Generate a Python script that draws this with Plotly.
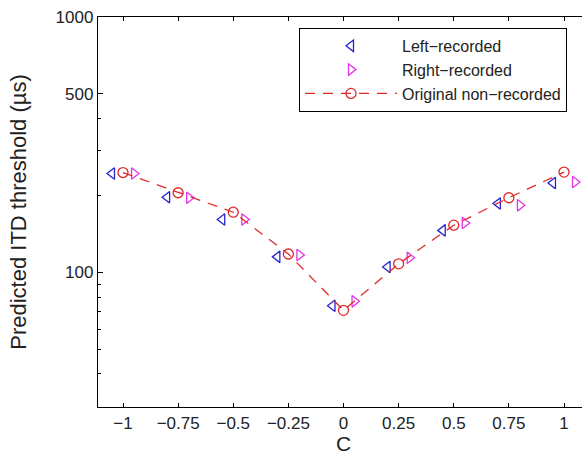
import numpy as np
import plotly.graph_objects as go

# ---- data ----
C_vals = [-1, -0.75, -0.5, -0.25, 0, 0.25, 0.5, 0.75, 1]
left_recorded = [244, 197, 161, 115, 74, 105, 146, 186, 224]
right_recorded = [244, 196, 161, 117, 77, 114, 156, 183, 226]
original_nonrec = [246, 205, 172, 118, 71, 108, 153, 196, 247]
x_tick_vals = [-1, -0.75, -0.5, -0.25, 0, 0.25, 0.5, 0.75, 1]
x_tick_text = ["\u22121", "\u22120.75", "\u22120.5", "\u22120.25", "0", "0.25", "0.5", "0.75", "1"]
y_tick_vals = [100, 500, 1000]
y_tick_text = ["100", "500", "1000"]
y_minor_vals = [40, 50, 60, 70, 80, 90, 200, 300, 400]

offset = 0.05
C = np.array(C_vals)

FONT = "Liberation Sans, Arial, Helvetica, sans-serif"

fig = go.Figure()
fig.add_trace(go.Scatter(
    x=C - offset, y=left_recorded, mode="markers", name="Left\u2212recorded",
    marker=dict(symbol="triangle-left-open", size=10, color="#2424d0", line=dict(width=1.3)),
))
fig.add_trace(go.Scatter(
    x=C + offset, y=right_recorded, mode="markers", name="Right\u2212recorded",
    marker=dict(symbol="triangle-right-open", size=10, color="#e236e8", line=dict(width=1.3)),
))
fig.add_trace(go.Scatter(
    x=C, y=original_nonrec, mode="lines+markers", name="Original non\u2212recorded",
    line=dict(color="#e02a2a", width=1.3, dash="10px,8px"),
    marker=dict(symbol="circle-open", size=10, color="#e02a2a", line=dict(width=1.3)),
))

fig.update_layout(
    width=582, height=465,
    margin=dict(l=98, r=0, t=17, b=58),
    paper_bgcolor="white", plot_bgcolor="white",
    font=dict(family=FONT, size=16, color="#222"),
    showlegend=True,
    legend=dict(
        x=0.969, y=0.972, xanchor="right", yanchor="top",
        bgcolor="white", bordercolor="black", borderwidth=1,
        font=dict(family=FONT, size=16, color="#222"),
        itemwidth=92,
    ),
    annotations=[dict(
        text="C", xref="x", x=0, yref="paper", y=-0.094,
        xanchor="center", yanchor="middle", showarrow=False,
        font=dict(family=FONT, size=21, color="#222"),
    )],
)
fig.update_xaxes(
    range=[-1.1134, 1.0816],
    tickmode="array", tickvals=x_tick_vals, ticktext=x_tick_text,
    ticks="inside", ticklen=4, tickcolor="black", tickwidth=1,
    showline=True, linecolor="black", linewidth=1.3, mirror="ticks",
    showgrid=False, zeroline=False,
    tickfont=dict(family=FONT, size=17, color="#222"),
)
fig.update_yaxes(
    type="log", range=[np.log10(29.7), 3],
    tickmode="array", tickvals=y_tick_vals, ticktext=y_tick_text,
    ticks="inside", ticklen=5, tickcolor="black", tickwidth=1,
    minor=dict(tickmode="array", tickvals=y_minor_vals, ticks="inside", ticklen=3,
               tickcolor="black", showgrid=False),
    showline=True, linecolor="black", linewidth=1.3, mirror=False,
    showgrid=False, zeroline=False,
    tickfont=dict(family=FONT, size=17, color="#222"),
    title=dict(text="Predicted ITD threshold (\u00b5s)", font=dict(family=FONT, size=22, color="#222"), standoff=22),
)

fig.write_html("out.html")
